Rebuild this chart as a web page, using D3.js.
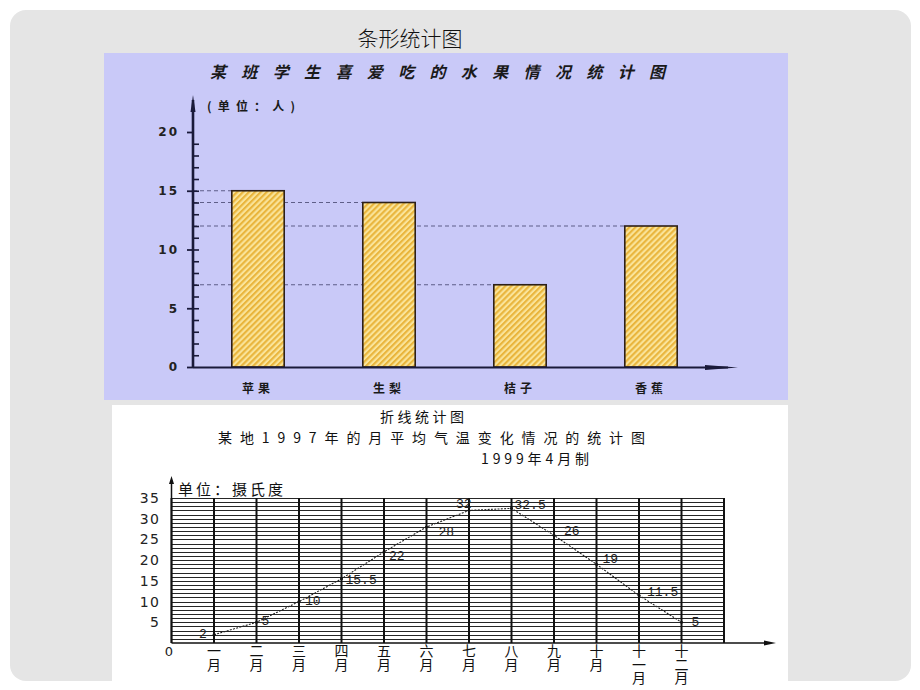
<!DOCTYPE html>
<html>
<head>
<meta charset="utf-8">
<script src="https://cdn.jsdelivr.net/npm/d3@7/dist/d3.min.js"></script>
<style>
  html, body { margin: 0; padding: 0; background: #ffffff; }
  svg { display: block; }
</style>
</head>
<body>
<svg id="chart" width="920" height="690"></svg>
<script>
// ---------- data ----------
const pageTitle = "条形统计图";
const barTitle = "某班学生喜爱吃的水果情况统计图";
const barUnit = "(单位：人)";
const barCategories = ["苹果", "生梨", "桔子", "香蕉"];
const barValues = [15, 14, 7, 12];
const barTicks = [0, 5, 10, 15, 20];

const lineTitle1 = "折线统计图";
const lineTitle2 = "某地1997年的月平均气温变化情况的统计图";
const lineTitle3 = "1999年4月制";
const lineUnit = "单位：摄氏度";
const months = ["一月", "二月", "三月", "四月", "五月", "六月", "七月", "八月", "九月", "十月", "十一月", "十二月"];
const temps = [2, 5, 10, 15.5, 22, 28, 32, 32.5, 26, 19, 11.5, 5];
const tempLabels = ["2", "5", "10", "15.5", "22", "28", "32", "32.5", "26", "19", "11.5", "5"];
const tempTicks = [5, 10, 15, 20, 25, 30, 35];

// ---------- setup ----------
const svg = d3.select("#chart");
const CJK = "'Noto Sans CJK SC', 'Noto Sans', sans-serif";

const defs = svg.append("defs");
const pat = defs.append("pattern")
  .attr("id", "hatch").attr("patternUnits", "userSpaceOnUse")
  .attr("width", 4.2).attr("height", 4.2)
  .attr("patternTransform", "rotate(45)");
pat.append("rect").attr("width", 4.2).attr("height", 4.2).attr("fill", "#fae49a");
pat.append("rect").attr("width", 2.1).attr("height", 4.2).attr("fill", "#e9b53c");

// background
svg.append("rect").attr("x", 10).attr("y", 10).attr("width", 901).attr("height", 671)
  .attr("rx", 16).attr("fill", "#e5e5e5");

svg.append("text").attr("x", 410).attr("y", 46).attr("text-anchor", "middle")
  .attr("font-family", CJK).attr("font-size", 21).attr("font-weight", 300)
  .attr("fill", "#111").text(pageTitle);

// ---------- bar chart ----------
const bar = svg.append("g");
bar.append("rect").attr("x", 104).attr("y", 53).attr("width", 684).attr("height", 347)
  .attr("fill", "#c9c9f8");

bar.append("text").attr("x", 210).attr("y", 78)
  .attr("font-family", CJK).attr("font-size", 16).attr("font-weight", 700)
  .attr("font-style", "italic").attr("textLength", 455).attr("lengthAdjust", "spacing")
  .attr("fill", "#1a1a1a").text(barTitle);

const bx = d3.scaleBand().domain(barCategories).range([192.5, 716.5])
  .paddingInner(0.6).paddingOuter(0.3);
const by = d3.scaleLinear().domain([0, 20]).range([367, 132]);
const axisX0 = 193;

// dashed guide lines
bar.append("g").selectAll("line").data(barValues).join("line")
  .attr("x1", axisX0).attr("x2", (d, i) => bx(barCategories[i]))
  .attr("y1", d => by(d)).attr("y2", d => by(d))
  .attr("stroke", "#5e5e88").attr("stroke-width", 1.1).attr("stroke-dasharray", "4,3");

// bars
bar.append("g").selectAll("rect").data(barValues).join("rect")
  .attr("x", (d, i) => bx(barCategories[i]))
  .attr("y", d => by(d))
  .attr("width", bx.bandwidth())
  .attr("height", d => by(0) - by(d))
  .attr("fill", "url(#hatch)").attr("stroke", "#2d2018").attr("stroke-width", 1.6);

// y axis: major ticks
const yAxisG = bar.append("g").attr("transform", `translate(${axisX0},0)`)
  .call(d3.axisLeft(by).tickValues(barTicks).tickSize(6).tickPadding(8));
yAxisG.select(".domain").remove();
yAxisG.selectAll(".tick line").attr("stroke", "#1a1a3a").attr("stroke-width", 1.8);
yAxisG.selectAll(".tick text").attr("font-family", "'DejaVu Sans', sans-serif")
  .attr("font-weight", 700).attr("font-size", 12).attr("letter-spacing", 2).attr("fill", "#222");
// minor ticks
const yMinor = bar.append("g").attr("transform", `translate(${axisX0},0)`)
  .call(d3.axisRight(by).tickValues(d3.range(1, 20)).tickSize(6).tickFormat(""));
yMinor.select(".domain").remove();
yMinor.selectAll(".tick line").attr("stroke", "#1a1a3a").attr("stroke-width", 1.6);

// y axis line + arrow
bar.append("line").attr("x1", axisX0).attr("x2", axisX0).attr("y1", by(0) + 1).attr("y2", 100)
  .attr("stroke", "#1a1a3a").attr("stroke-width", 2.6);
bar.append("path").attr("d", `M${axisX0 - 2.5},112 L${axisX0},95 L${axisX0 + 2.5},112 Z`).attr("fill", "#1a1a3a");
// x axis line + arrow
bar.append("line").attr("x1", axisX0).attr("x2", 728).attr("y1", by(0) + 0.5).attr("y2", by(0) + 0.5)
  .attr("stroke", "#1a1a3a").attr("stroke-width", 2);
bar.append("path").attr("d", `M705,${by(0) - 2} L738,${by(0) + 0.5} L705,${by(0) + 3} Z`).attr("fill", "#1a1a3a");

// x labels
const xAxisG = bar.append("g").attr("transform", `translate(0,${by(0)})`)
  .call(d3.axisBottom(bx).tickSize(0).tickPadding(17));
xAxisG.select(".domain").remove();
xAxisG.selectAll(".tick text").attr("font-family", CJK).attr("font-weight", 700)
  .attr("font-size", 12).attr("letter-spacing", 4).attr("fill", "#1a1a1a");

bar.append("text").attr("x", 207).attr("y", 111).attr("font-family", CJK)
  .attr("font-size", 12).attr("font-weight", 700).attr("textLength", 88).attr("lengthAdjust", "spacing")
  .attr("fill", "#1a1a1a").text(barUnit);

// ---------- line chart ----------
const ln = svg.append("g");
ln.append("rect").attr("x", 112).attr("y", 405).attr("width", 676).attr("height", 285).attr("fill", "#ffffff");

ln.append("text").attr("x", 380).attr("y", 422)
  .attr("font-family", CJK).attr("font-size", 14)
  .attr("textLength", 84).attr("lengthAdjust", "spacing").attr("fill", "#111").text(lineTitle1);
ln.append("text").attr("x", 218).attr("y", 443)
  .attr("font-family", CJK).attr("font-size", 14)
  .attr("textLength", 427).attr("lengthAdjust", "spacing").attr("fill", "#111").text(lineTitle2);
ln.append("text").attr("x", 481).attr("y", 464)
  .attr("font-family", CJK).attr("font-size", 14)
  .attr("textLength", 108).attr("lengthAdjust", "spacing").attr("fill", "#111").text(lineTitle3);

const lx = d3.scaleLinear().domain([0, months.length + 1]).range([171.5, 724]);
const ly = d3.scaleLinear().domain([0, 35]).range([643, 498]);

// horizontal grid (every 1 unit)
ln.append("g").selectAll("line").data(d3.range(1, 36)).join("line")
  .attr("x1", lx(0)).attr("x2", lx(months.length + 1))
  .attr("y1", d => Math.round(ly(d)) + 0.5).attr("y2", d => Math.round(ly(d)) + 0.5)
  .attr("stroke", "#262626").attr("stroke-width", d => d === 35 ? 1.6 : 1)
  .attr("shape-rendering", "crispEdges");
// vertical grid
ln.append("g").selectAll("line").data(d3.range(0, months.length + 2)).join("line")
  .attr("x1", d => lx(d)).attr("x2", d => lx(d))
  .attr("y1", ly(35)).attr("y2", ly(0))
  .attr("stroke", "#111").attr("stroke-width", 2);

// axes
ln.append("line").attr("x1", lx(0)).attr("x2", 770).attr("y1", ly(0)).attr("y2", ly(0))
  .attr("stroke", "#111").attr("stroke-width", 1.5);
ln.append("path").attr("d", `M764,${ly(0) - 2.5} L776,${ly(0)} L764,${ly(0) + 2.5} Z`).attr("fill", "#111");
ln.append("line").attr("x1", lx(0)).attr("x2", lx(0)).attr("y1", ly(0)).attr("y2", 480)
  .attr("stroke", "#111").attr("stroke-width", 1.5);
ln.append("path").attr("d", `M${lx(0) - 2.5},484 L${lx(0)},476 L${lx(0) + 2.5},484 Z`).attr("fill", "#111");

ln.append("text").attr("x", 178).attr("y", 495).attr("font-family", CJK)
  .attr("font-size", 15).attr("letter-spacing", 3).attr("fill", "#111").text(lineUnit);

// y tick labels
const lyAxis = ln.append("g").attr("transform", `translate(${lx(0)},0)`)
  .call(d3.axisLeft(ly).tickValues(tempTicks).tickSize(0).tickPadding(11));
lyAxis.select(".domain").remove();
lyAxis.selectAll(".tick text").attr("font-family", "'DejaVu Sans', sans-serif")
  .attr("font-size", 14).attr("letter-spacing", 1.5).attr("fill", "#222");
ln.append("text").attr("x", 169).attr("y", 656).attr("text-anchor", "middle")
  .attr("font-family", "'DejaVu Sans', sans-serif").attr("font-size", 13).attr("fill", "#222").text("0");

// month labels: vertical (stacked) text, one element per month
ln.append("g").selectAll("text").data(months).join("text")
  .attr("x", (d, i) => lx(i + 1)).attr("y", 644)
  .style("writing-mode", "vertical-rl")
  .attr("letter-spacing", -0.5)
  .attr("font-family", CJK).attr("font-size", 14).attr("fill", "#111")
  .text(d => d);

// line
const line = d3.line().x((d, i) => lx(i + 1)).y(d => ly(d));
ln.append("path").datum(temps).attr("d", line).attr("fill", "none")
  .attr("stroke", "#222").attr("stroke-width", 1.1).attr("stroke-dasharray", "2,1.3");
ln.append("g").selectAll("circle").data(temps).join("circle")
  .attr("cx", (d, i) => lx(i + 1)).attr("cy", d => ly(d)).attr("r", 1.5).attr("fill", "#111");

// data labels
const labelOffsets = [[-15, 0], [5, -1], [6, 0], [4, 2], [5, 5], [12, 5], [-13, -6], [3, -3], [10, -4], [6, -5], [8, -3], [10, 0]];
ln.append("g").selectAll("text").data(tempLabels).join("text")
  .attr("x", (d, i) => lx(i + 1) + labelOffsets[i][0])
  .attr("y", (d, i) => ly(temps[i]) + labelOffsets[i][1])
  .attr("dominant-baseline", "central")
  .attr("font-family", "'Liberation Mono', monospace").attr("font-size", 13)
  .attr("fill", "#222").text(d => d);
</script>
</body>
</html>
